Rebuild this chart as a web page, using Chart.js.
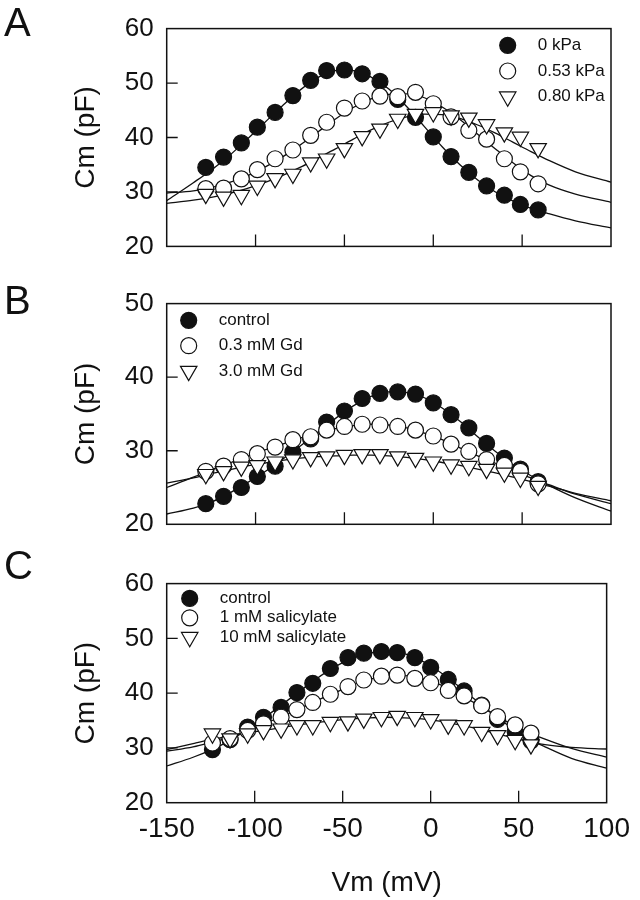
<!DOCTYPE html>
<html>
<head>
<meta charset="utf-8">
<script src="https://cdn.jsdelivr.net/npm/chart.js@4.4.0/dist/chart.umd.min.js"></script>
<style>
  body { margin: 0; background: #fff; width: 640px; height: 900px; position: relative; overflow: hidden; font-family: 'Liberation Sans', Arial, sans-serif; }
  .panel { position: absolute; left: 0; width: 640px; }
  .letter { position: absolute; left: 4px; font-size: 40px; line-height: 40px; color: #111; }
</style>
</head>
<body>
<div class="panel" style="top:0;height:275px"><canvas id="chartA" width="640" height="275"></canvas></div>
<div class="panel" style="top:275px;height:280px"><canvas id="chartB" width="640" height="280"></canvas></div>
<div class="panel" style="top:555px;height:345px"><canvas id="chartC" width="640" height="345"></canvas></div>
<div class="letter" style="top:2px">A</div>
<div class="letter" style="top:280px">B</div>
<div class="letter" style="top:545px">C</div>
<script>
// membrane potential of the measured points (mV)
const vmAB = [-128, -118, -108, -99, -89, -79, -69, -60, -50, -40, -30, -20, -10, 0, 10, 20, 30, 40, 49, 59];
const vmC = [-124, -114, -104, -95, -85, -76, -67, -57, -47, -38, -28, -19, -9, 0, 10, 19, 29, 38, 48, 57];
// x grid of the fitted curves (mV)
const fitVm = [-150, -135, -125, -115, -105, -95, -85, -75, -65, -55, -45, -35, -25, -15, -5, 5, 15, 25, 35, 45, 55, 65, 80, 100];

// Panel A: pressure
const cmA0 = [34.5, 36.4, 39.0, 41.9, 44.6, 47.7, 50.5, 52.3, 52.4, 51.7, 50.3, 47.0, 43.7, 40.1, 36.5, 33.6, 31.1, 29.4, 27.7, 26.7];
const cmA053 = [30.6, 30.7, 32.4, 34.1, 36.1, 37.7, 40.4, 42.8, 45.4, 46.7, 47.6, 47.5, 48.3, 46.2, 43.8, 41.3, 39.7, 36.1, 33.7, 31.5];
const cmA080 = [29.6, 29.1, 29.4, 31.1, 32.5, 33.3, 35.4, 36.1, 38.0, 40.2, 41.6, 43.4, 44.3, 44.6, 44.0, 43.6, 42.4, 40.9, 40.1, 38.0];
const fitA0 = [28.4, 31.7, 34.0, 36.6, 39.6, 42.7, 45.8, 48.7, 51.0, 52.3, 52.3, 51.1, 48.9, 45.7, 42.0, 38.3, 35.0, 32.2, 30.0, 28.3, 27.0, 26.0, 24.7, 23.4];
const fitA053 = [29.8, 30.2, 30.8, 31.7, 32.9, 34.5, 36.4, 38.6, 41.0, 43.4, 45.5, 47.1, 47.9, 48.0, 47.3, 45.6, 43.3, 40.6, 37.9, 35.3, 33.0, 31.3, 29.6, 28.1];
const fitA080 = [27.9, 28.5, 29.0, 29.7, 30.6, 31.7, 33.0, 34.5, 36.2, 37.9, 39.7, 41.4, 42.8, 43.8, 44.3, 44.2, 43.5, 42.3, 40.8, 39.1, 37.4, 35.8, 33.7, 31.8];

// Panel B: gadolinium
const cmBctl = [22.8, 23.8, 25.0, 26.5, 27.9, 29.8, 31.6, 33.9, 35.4, 37.1, 37.8, 38.0, 37.7, 36.5, 34.9, 33.1, 31.0, 29.0, 27.5, 25.8];
const cmBgd03 = [27.2, 27.9, 28.8, 29.6, 30.5, 31.5, 31.9, 32.8, 33.3, 33.6, 33.5, 33.3, 32.8, 32.0, 30.9, 29.9, 28.8, 28.0, 27.2, 25.5];
const cmBgd3 = [26.8, 27.2, 27.8, 28.0, 28.5, 28.8, 29.1, 29.2, 29.4, 29.5, 29.5, 29.2, 29.0, 28.5, 28.1, 27.9, 27.5, 27.0, 26.3, 25.2];
const fitBctl = [21.4, 22.2, 23.0, 24.2, 25.6, 27.1, 28.8, 30.6, 32.5, 34.4, 36.1, 37.4, 38.0, 37.9, 37.2, 35.8, 34.0, 31.9, 29.9, 28.1, 26.6, 25.3, 23.6, 21.8];
const fitBgd03 = [25.0, 26.4, 27.4, 28.3, 29.2, 30.1, 30.9, 31.7, 32.4, 33.0, 33.4, 33.6, 33.5, 33.1, 32.4, 31.5, 30.4, 29.3, 28.3, 27.3, 26.3, 25.4, 24.1, 22.8];
const fitBgd3 = [25.6, 26.3, 26.9, 27.4, 27.9, 28.3, 28.7, 29.0, 29.2, 29.3, 29.4, 29.4, 29.3, 29.1, 28.8, 28.4, 28.0, 27.5, 27.0, 26.4, 25.8, 25.2, 24.2, 23.2];

// Panel C: salicylate
const cmCctl = [29.7, 31.5, 33.8, 35.6, 37.4, 40.1, 41.8, 44.5, 46.5, 47.3, 47.6, 47.4, 46.5, 44.7, 42.5, 40.4, 37.8, 35.2, 33.0, 31.3];
const cmCsal1 = [30.9, 31.7, 33.2, 34.4, 35.6, 37.0, 38.3, 39.8, 41.2, 42.4, 43.1, 43.3, 42.7, 41.9, 40.5, 39.5, 37.7, 35.7, 34.2, 32.7];
const cmCsal10 = [32.6, 31.7, 32.6, 33.2, 33.5, 34.1, 34.1, 34.7, 34.8, 35.3, 35.6, 35.8, 35.6, 35.2, 34.2, 34.1, 32.9, 32.3, 31.4, 30.6];
const fitCctl = [26.7, 28.3, 29.6, 31.2, 33.2, 35.4, 37.8, 40.2, 42.6, 44.7, 46.3, 47.3, 47.6, 47.2, 45.9, 43.9, 41.5, 38.9, 36.3, 33.9, 31.8, 30.2, 28.1, 26.3];
const fitCsal1 = [29.4, 30.2, 31.0, 31.9, 33.0, 34.3, 35.7, 37.1, 38.6, 40.0, 41.4, 42.5, 43.1, 43.2, 42.7, 41.6, 40.0, 38.2, 36.3, 34.5, 32.9, 31.6, 29.9, 28.3];
const fitCsal10 = [29.7, 30.8, 31.5, 32.1, 32.7, 33.2, 33.7, 34.2, 34.6, 35.0, 35.3, 35.5, 35.6, 35.5, 35.3, 34.9, 34.3, 33.6, 32.8, 32.0, 31.2, 30.6, 30.1, 29.8];

const ink = '#111';
const fontFamily = "'Liberation Sans', Arial, sans-serif";

// marker looks: filled circle, open circle, open down-triangle
const markerStyles = [
    { pointStyle: 'circle', radius: 8, rotation: 0, fill: ink },
    { pointStyle: 'circle', radius: 8, rotation: 0, fill: '#fff' },
    { pointStyle: 'triangle', radius: 9.5, rotation: 180, fill: '#fff' },
];

function pts(xs, ys) {
    return xs.map((x, i) => ({ x: x, y: ys[i] }));
}

function drawMarker(ctx, style, x, y) {
    ctx.beginPath();
    if (style.pointStyle === 'circle') {
        ctx.arc(x, y, style.radius, 0, Math.PI * 2);
    } else {
        const r = style.radius;
        ctx.moveTo(x, y + r);
        ctx.lineTo(x - r * 0.866, y - r * 0.5);
        ctx.lineTo(x + r * 0.866, y - r * 0.5);
        ctx.closePath();
    }
    ctx.fillStyle = style.fill;
    ctx.fill();
    ctx.stroke();
}

// box round the plot and inward tick marks
const frameTicks = {
    id: 'frameTicks',
    afterDatasetsDraw(chart) {
        const { ctx, chartArea: a, scales: { x, y } } = chart;
        ctx.save();
        ctx.strokeStyle = ink;
        ctx.lineWidth = 1.5;
        ctx.strokeRect(a.left, a.top, a.right - a.left, a.bottom - a.top);
        ctx.lineWidth = 1.3;
        ctx.beginPath();
        x.ticks.forEach(t => {
            const px = x.getPixelForValue(t.value);
            if (px > a.left + 2 && px < a.right - 2) {
                ctx.moveTo(px, a.bottom);
                ctx.lineTo(px, a.bottom - 12);
            }
        });
        y.ticks.forEach(t => {
            const py = y.getPixelForValue(t.value);
            if (py > a.top + 2 && py < a.bottom - 2) {
                ctx.moveTo(a.left, py);
                ctx.lineTo(a.left + 11, py);
            }
        });
        ctx.stroke();
        ctx.restore();
    }
};

// legend placed inside the plot
const panelLegend = {
    id: 'panelLegend',
    afterDraw(chart, args, opts) {
        const { ctx, chartArea: a } = chart;
        ctx.save();
        ctx.strokeStyle = ink;
        ctx.lineWidth = 1.2;
        ctx.font = opts.fontSize + 'px ' + fontFamily;
        ctx.textBaseline = 'middle';
        opts.labels.forEach((label, i) => {
            const mx = a.left + opts.dx;
            const my = a.top + opts.dy + i * opts.rowGap;
            drawMarker(ctx, markerStyles[i], mx, my);
            ctx.fillStyle = ink;
            ctx.fillText(label, mx + opts.textGap, my);
        });
        ctx.restore();
    }
};

function makePanel(id, cfg) {
    const datasets = [];
    cfg.fits.forEach((f, i) => {
        datasets.push({
            type: 'line',
            data: pts(fitVm, f),
            borderColor: ink,
            borderWidth: 1.3,
            pointRadius: 0,
            fill: false,
            cubicInterpolationMode: 'monotone',
            order: 10 + i,
        });
    });
    cfg.series.forEach((s, i) => {
        const st = markerStyles[i];
        datasets.push({
            type: 'scatter',
            label: cfg.labels[i],
            data: pts(cfg.vm, s),
            pointStyle: st.pointStyle,
            pointRotation: st.rotation,
            pointRadius: st.radius,
            pointHoverRadius: st.radius,
            pointBackgroundColor: st.fill,
            pointBorderColor: ink,
            pointBorderWidth: 1.2,
            showLine: false,
            order: 3 - i,
        });
    });

    return new Chart(document.getElementById(id), {
        type: 'scatter',
        data: { datasets: datasets },
        options: {
            responsive: false,
            animation: false,
            events: [],
            layout: { padding: { top: cfg.padTop, right: 29, bottom: 0, left: 0 } },
            plugins: {
                legend: { display: false },
                tooltip: { enabled: false },
                panelLegend: { labels: cfg.labels, dx: cfg.legend.dx, dy: cfg.legend.dy, rowGap: cfg.legend.rowGap, textGap: 30, fontSize: 17 },
            },
            scales: {
                x: {
                    type: 'linear',
                    min: -150,
                    max: 100,
                    ticks: {
                        stepSize: 50,
                        display: cfg.xLabels,
                        autoSkip: false,
                        maxRotation: 0,
                        color: ink,
                        padding: 10,
                        font: { family: fontFamily, size: 28 },
                    },
                    grid: { display: false, drawTicks: false },
                    border: { display: false },
                    title: {
                        display: cfg.xLabels,
                        text: 'Vm (mV)',
                        color: ink,
                        padding: { top: 4, bottom: 0 },
                        font: { family: fontFamily, size: 28 },
                    },
                    afterFit: s => { s.height = cfg.xHeight; },
                },
                y: {
                    type: 'linear',
                    min: cfg.yMin,
                    max: cfg.yMax,
                    ticks: {
                        stepSize: 10,
                        color: ink,
                        padding: 13,
                        font: { family: fontFamily, size: 26 },
                    },
                    grid: { display: false, drawTicks: false },
                    border: { display: false },
                    title: {
                        display: true,
                        text: 'Cm (pF)',
                        color: ink,
                        padding: { top: 69, bottom: 0 },
                        font: { family: fontFamily, size: 28 },
                    },
                    afterFit: s => { s.width = 166.7; },
                },
            },
        },
        plugins: [frameTicks, panelLegend],
    });
}

makePanel('chartA', {
    vm: vmAB,
    series: [cmA0, cmA053, cmA080],
    fits: [fitA0, fitA053, fitA080],
    labels: ['0 kPa', '0.53 kPa', '0.80 kPa'],
    yMin: 20, yMax: 60,
    padTop: 28.3, xHeight: 22, xLabels: false,
    legend: { dx: 341, dy: 16.7, rowGap: 25.7 },
});

makePanel('chartB', {
    vm: vmAB,
    series: [cmBctl, cmBgd03, cmBgd3],
    fits: [fitBctl, fitBgd03, fitBgd3],
    labels: ['control', '0.3 mM Gd', '3.0 mM Gd'],
    yMin: 20, yMax: 50,
    padTop: 24.3, xHeight: 30.7, xLabels: false,
    legend: { dx: 22, dy: 16.7, rowGap: 25.4 },
});

makePanel('chartC', {
    vm: vmC,
    series: [cmCctl, cmCsal1, cmCsal10],
    fits: [fitCctl, fitCsal1, fitCsal10],
    labels: ['control', '1 mM salicylate', '10 mM salicylate'],
    yMin: 20, yMax: 60,
    padTop: 22.5, xHeight: 97.3, xLabels: true,
    legend: { dx: 23, dy: 14.8, rowGap: 19.4 },
});
</script>
</body>
</html>
